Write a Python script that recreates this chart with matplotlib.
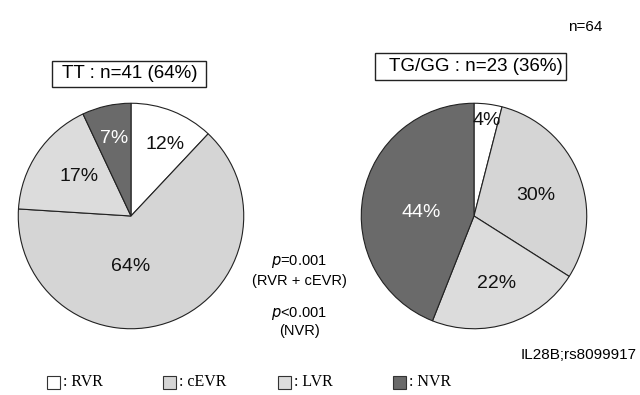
import matplotlib
matplotlib.use("Agg")
import matplotlib.pyplot as plt
from matplotlib.patches import Rectangle

plt.rcParams['font.family'] = ['Liberation Sans', 'DejaVu Sans']

categories = ["RVR", "cEVR", "LVR", "NVR"]
tt_values = [12, 64, 17, 7]
tg_values = [4, 30, 22, 44]
tt_title = "TT : n=41 (64%)"
tg_title = "TG/GG : n=23 (36%)"
total_label = "n=64"
snp_label = "IL28B;rs8099917"
p_texts = ["$p$=0.001", "(RVR + cEVR)", "$p$<0.001", "(NVR)"]

colors = ["#ffffff", "#d5d5d5", "#dcdcdc", "#6a6a6a"]
text_colors = ["#111111", "#111111", "#111111", "#ffffff"]

W, H = 640, 395
fig = plt.figure(figsize=(W / 100, H / 100), dpi=100)

R = 115


def pie_axes(cx, cy):
    return fig.add_axes([(cx - R) / W, (H - cy - R) / H, 2 * R / W, 2 * R / H])


def draw_pie(ax, values, label_pos):
    ax.pie(values, colors=colors, startangle=90, counterclock=False, radius=1.0,
           wedgeprops=dict(edgecolor="#222222", linewidth=0.8))
    for v, (x, y), tc in zip(values, label_pos, text_colors):
        ax.text(x, y, f"{v}%", ha="center", va="center", fontsize=14, color=tc)
    ax.set_xlim(-1.02, 1.02)
    ax.set_ylim(-1.02, 1.02)
    ax.set_aspect("equal")
    ax.axis("off")


ax1 = pie_axes(131, 216)
draw_pie(ax1, tt_values, [(0.30, 0.63), (0.0, -0.45), (-0.46, 0.35), (-0.15, 0.69)])
ax2 = pie_axes(474, 216)
draw_pie(ax2, tg_values, [(0.11, 0.85), (0.55, 0.18), (0.20, -0.60), (-0.47, 0.03)])


def title_box(x0, x1, y0, y1, text, tx):
    fig.patches.append(Rectangle((x0 / W, 1 - y1 / H), (x1 - x0) / W, (y1 - y0) / H,
                                 transform=fig.transFigure, facecolor="white",
                                 edgecolor="#222222", linewidth=1.0))
    fig.text(tx / W, 1 - ((y0 + y1) / 2) / H, text, ha="left", va="center", fontsize=13.5)


title_box(52, 206, 61, 87, tt_title, 62)
title_box(375, 566, 53, 80, tg_title, 389)

fig.text(585 / W, 1 - 27 / H, total_label, ha="center", va="center", fontsize=11)
fig.text(637 / W, 1 - 355 / H, snp_label, ha="right", va="center", fontsize=11)

for t, y in zip(p_texts, [262, 281, 313, 331]):
    fig.text(299 / W, 1 - y / H, t, ha="center", va="center", fontsize=10.5)

leg_x = [47, 163, 278, 393]
for x, c, name in zip(leg_x, colors, categories):
    fig.patches.append(Rectangle((x / W, 1 - 389 / H), 13 / W, 13 / H,
                                 transform=fig.transFigure, facecolor=c,
                                 edgecolor="#333333", linewidth=0.8))
    fig.text((x + 16) / W, 1 - 382 / H, ": " + name, ha="left", va="center",
             fontsize=11.5, family=["Liberation Serif", "DejaVu Serif"])

fig.savefig("out.png", dpi=100, facecolor="white")
